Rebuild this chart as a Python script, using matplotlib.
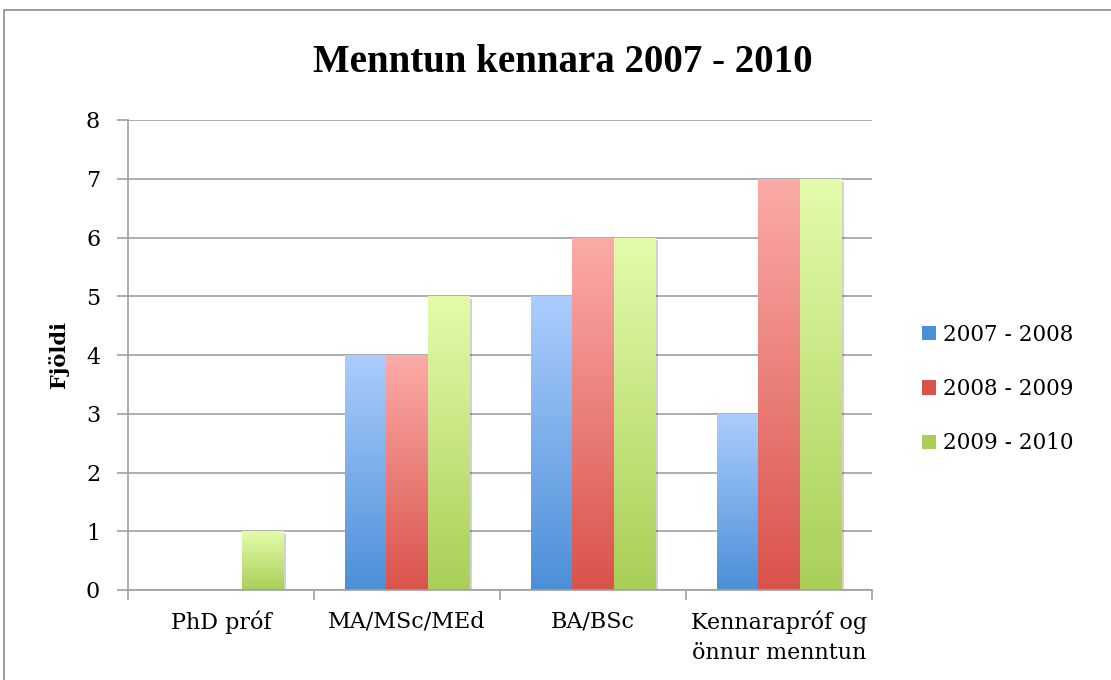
import matplotlib
matplotlib.use('Agg')
import matplotlib.pyplot as plt
import matplotlib.patches as mpatches
import matplotlib.patheffects as pe
from matplotlib.colors import LinearSegmentedColormap
import numpy as np

plt.rcParams['font.family'] = ['DejaVu Serif']

# ── data ──────────────────────────────────────────────────────────────────
categories = ['PhD próf', 'MA/MSc/MEd', 'BA/BSc', 'Kennarapróf og\nönnur menntun']
series = ['2007 - 2008', '2008 - 2009', '2009 - 2010']
v0708 = [0, 4, 5, 3]
v0809 = [0, 4, 6, 7]
v0910 = [1, 5, 6, 7]

# gradient colours (top, bottom) per series
GRAD = [('#abcdfd', '#4c8fd8'),
        ('#fcaba8', '#d9534b'),
        ('#e3fcab', '#a9cf57')]
GRID = '#a0a0a0'

fig = plt.figure(figsize=(11.11, 6.8), dpi=100)
ax = fig.add_axes([128/1111, 1 - 590/680, 744/1111, 470/680])

# outer chart border
fig.patches.append(mpatches.Rectangle((4/1111, -0.1), 1.2, (670/680) + 0.1,
                                      transform=fig.transFigure, fill=False,
                                      edgecolor='#8c8c8c', linewidth=1.2))

x = np.arange(len(categories))
bw = 0.224
grad = np.linspace(0, 1, 256).reshape(-1, 1)
for i, vals in enumerate([v0708, v0809, v0910]):
    cmap = LinearSegmentedColormap.from_list('g%d' % i, [GRAD[i][1], GRAD[i][0]])
    bars = ax.bar(x + (i - 1) * bw, vals, bw, color=GRAD[i][1], zorder=3,
                  linewidth=0)
    for b in bars:
        h = b.get_height()
        if h <= 0:
            b.set_visible(False)
            continue
        b.set_path_effects([pe.SimplePatchShadow(offset=(2, -2), alpha=0.18,
                                                 shadow_rgbFace='black'),
                            pe.Normal()])
        x0 = b.get_x()
        im = ax.imshow(grad, cmap=cmap, origin='lower', aspect='auto',
                       extent=[x0, x0 + bw, 0, h], zorder=4)
        im.set_clip_path(b)
    # legend proxy
    ax.bar(0, 0, 0, color=GRAD[i][1], label=series[i])

ax.set_xlim(-0.5, len(categories) - 0.5)
ax.set_ylim(0, 8)
ax.set_yticks(range(0, 9))
ax.yaxis.grid(True, color=GRID, linewidth=1.2, zorder=0)
ax.set_axisbelow(True)

for s in ('top', 'right'):
    ax.spines[s].set_visible(False)
for s in ('left', 'bottom'):
    ax.spines[s].set_color(GRID)
    ax.spines[s].set_linewidth(1.2)
    ax.spines[s].set_zorder(5)

ax.tick_params(axis='y', length=8, width=1.2, color=GRID, labelsize=16, pad=12)
ax.set_xticks(x)
ax.set_xticklabels(categories, fontsize=16, linespacing=1.45)
ax.set_xticks(np.arange(-0.5, len(categories)), minor=True)
ax.tick_params(axis='x', which='major', length=0, pad=15)
ax.tick_params(axis='x', which='minor', length=7, width=1.2, color=GRID)

ax.set_ylabel('Fjöldi', fontsize=15, fontweight='bold', labelpad=12)
fig.text(563/1111, 1 - 62/680, 'Menntun kennara 2007 - 2010', fontsize=28,
         fontweight='bold', ha='center', va='center', family='Liberation Serif')

handles, labels = ax.get_legend_handles_labels()
fig.legend(handles, labels, loc='center left', bbox_to_anchor=(903/1111, 1 - 389/680),
           frameon=False, fontsize=15.5, handlelength=0.65, handleheight=0.65,
           handletextpad=0.3, labelspacing=1.5)

fig.savefig('out.png', dpi=100)
